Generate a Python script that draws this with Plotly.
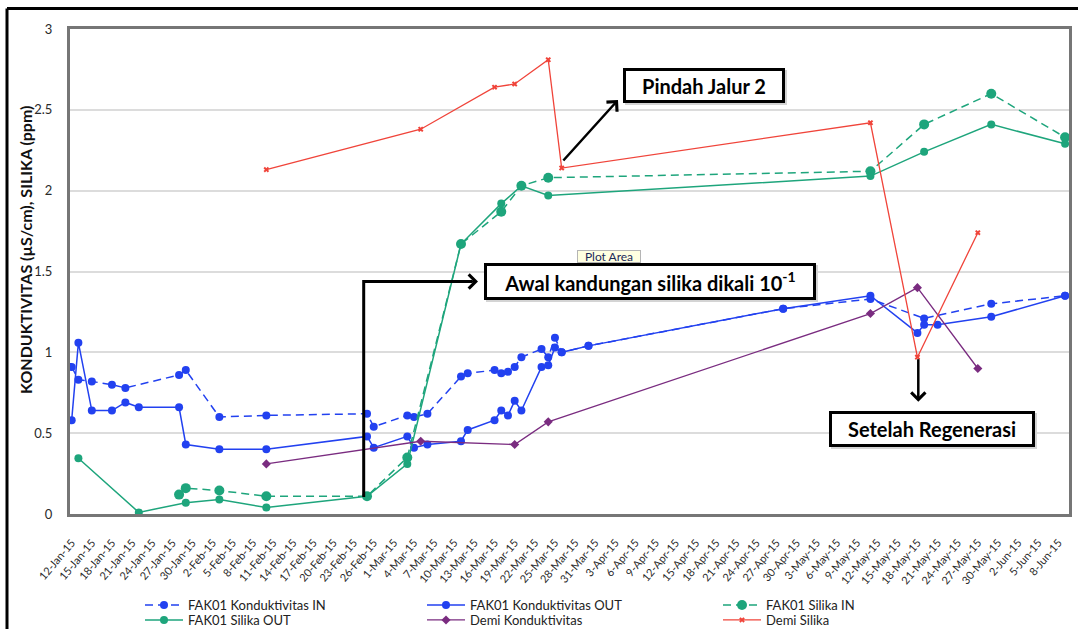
import plotly.graph_objects as go

# ---------------- data ----------------
kond_in_dates = ["2015-01-12", "2015-01-13", "2015-01-15", "2015-01-18", "2015-01-20", "2015-01-28",
                 "2015-01-29", "2015-02-03", "2015-02-10", "2015-02-25", "2015-02-26", "2015-03-03",
                 "2015-03-04", "2015-03-06", "2015-03-11", "2015-03-12", "2015-03-16", "2015-03-17",
                 "2015-03-18", "2015-03-19", "2015-03-20", "2015-03-23", "2015-03-24", "2015-03-25",
                 "2015-03-26", "2015-03-30", "2015-04-28", "2015-05-11", "2015-05-19", "2015-05-29",
                 "2015-06-09"]
kond_in = [0.91, 0.83, 0.82, 0.80, 0.78, 0.86, 0.89, 0.60, 0.61, 0.62, 0.54, 0.61,
           0.60, 0.62, 0.85, 0.87, 0.89, 0.87, 0.88, 0.91, 0.97, 1.02, 0.97, 1.09,
           1.00, 1.04, 1.27, 1.33, 1.21, 1.30, 1.35]

kond_out_dates = ["2015-01-12", "2015-01-13", "2015-01-15", "2015-01-18", "2015-01-20", "2015-01-22",
                  "2015-01-28", "2015-01-29", "2015-02-03", "2015-02-10", "2015-02-25", "2015-02-26",
                  "2015-03-03", "2015-03-04", "2015-03-06", "2015-03-11", "2015-03-12", "2015-03-16",
                  "2015-03-17", "2015-03-18", "2015-03-19", "2015-03-20", "2015-03-23", "2015-03-24",
                  "2015-03-25", "2015-03-26", "2015-03-30", "2015-04-28", "2015-05-11", "2015-05-18",
                  "2015-05-19", "2015-05-21", "2015-05-29", "2015-06-09"]
kond_out = [0.58, 1.06, 0.64, 0.64, 0.69, 0.66, 0.66, 0.43, 0.40, 0.40, 0.48, 0.41,
            0.48, 0.41, 0.43, 0.45, 0.52, 0.58, 0.64, 0.61, 0.70, 0.64, 0.91, 0.92,
            1.03, 1.00, 1.04, 1.27, 1.35, 1.12, 1.17, 1.17, 1.22, 1.35]

silika_in_dates = ["2015-01-28", "2015-01-29", "2015-02-03", "2015-02-10", "2015-02-25", "2015-03-03",
                   "2015-03-11", "2015-03-17", "2015-03-20", "2015-03-24", "2015-05-11", "2015-05-19",
                   "2015-05-29", "2015-06-09"]
silika_in = [0.12, 0.16, 0.145, 0.11, 0.11, 0.35, 1.67, 1.87, 2.03, 2.08, 2.12, 2.41, 2.60, 2.33]

silika_out_dates = ["2015-01-13", "2015-01-22", "2015-01-29", "2015-02-03", "2015-02-10", "2015-02-25",
                    "2015-03-03", "2015-03-11", "2015-03-17", "2015-03-20", "2015-03-24", "2015-05-11",
                    "2015-05-19", "2015-05-29", "2015-06-09"]
silika_out = [0.345, 0.01, 0.07, 0.09, 0.04, 0.11, 0.31, 1.67, 1.92, 2.03, 1.97, 2.09, 2.24, 2.41, 2.29]

demi_kond_dates = ["2015-02-10", "2015-03-05", "2015-03-19", "2015-03-24", "2015-05-11", "2015-05-18",
                   "2015-05-27"]
demi_kond = [0.31, 0.45, 0.43, 0.57, 1.24, 1.40, 0.90]

demi_silika_dates = ["2015-02-10", "2015-03-05", "2015-03-16", "2015-03-19", "2015-03-24", "2015-03-26",
                     "2015-05-11", "2015-05-18", "2015-05-27"]
demi_silika = [2.13, 2.38, 2.64, 2.66, 2.81, 2.14, 2.42, 0.97, 1.74]

series_names = ["FAK01 Konduktivitas IN", "FAK01 Konduktivitas OUT", "FAK01 Silika IN",
                "FAK01 Silika OUT", "Demi Konduktivitas", "Demi Silika"]

y_title = "KONDUKTIVITAS (µS/cm), SILIKA (ppm)"

# ---------------- styling ----------------
FONT = "Lato"
BLUE = "#2241f0"
GREEN = "#1ea57c"
PURPLE = "#7a2c80"
RED = "#f0443a"

W, H = 1078, 629
PL, PR, PT, PB = 70, 1069, 29, 514
PW, PH = PR - PL, PB - PT


def fx(x):
    return (x - PL) / PW


def fy(y):
    return (PB - y) / PH


fig = go.Figure()

traces = [
    (kond_in_dates, kond_in, BLUE, "8px,5px", "circle", 8, 1.5),
    (kond_out_dates, kond_out, BLUE, "solid", "circle", 8, 1.5),
    (silika_in_dates, silika_in, GREEN, "8px,5px", "circle", 10, 1.5),
    (silika_out_dates, silika_out, GREEN, "solid", "circle", 8, 1.5),
    (demi_kond_dates, demi_kond, PURPLE, "solid", "diamond", 7, 1.3),
    (demi_silika_dates, demi_silika, RED, "solid", "x", 5, 1.3),
]

legend_ids = ["legend", "legend2", "legend3", "legend4", "legend5", "legend6"]
for (dx, dy, col, dash, sym, ms, lw), name, lid in zip(traces, series_names, legend_ids):
    fig.add_trace(go.Scatter(
        x=dx, y=dy, name=name, mode="lines+markers",
        line=dict(color=col, width=lw, dash=dash),
        marker=dict(color=col, symbol=sym, size=ms, line=dict(width=0)),
        legend=lid,
    ))

# legend placement: 3 columns x 2 rows
col_x = [140, 422, 718]
row_y = [605, 620]
positions = [(0, 0), (1, 0), (2, 0), (0, 1), (1, 1), (2, 1)]
legend_layouts = {}
for lid, (c, r) in zip(legend_ids, positions):
    legend_layouts[lid] = dict(
        x=fx(col_x[c]), y=fy(row_y[r]), xanchor="left", yanchor="middle",
        bgcolor="rgba(0,0,0,0)", borderwidth=0, itemwidth=38,
        font=dict(family=FONT, size=13, color="#222222"),
    )

BOXFONT = dict(family=FONT, size=20, color="black", weight="bold")
annotations = [
    # y-axis title
    dict(text=y_title, x=fx(25), y=fy(250), xref="paper", yref="paper", showarrow=False,
         xanchor="center", yanchor="middle", textangle=-90,
         font=dict(family=FONT, size=16, color="#111111", weight="bold")),
    # boxes
    dict(text="Pindah Jalur 2", x=fx(704), y=fy(85.5), xref="paper", yref="paper", showarrow=False,
         xanchor="center", yanchor="middle",
         width=156, height=29, bgcolor="white", bordercolor="black", borderwidth=3, borderpad=0,
         font=BOXFONT),
    dict(text="Awal kandungan silika dikali 10<sup>-1</sup>", x=fx(650), y=fy(281.5), xref="paper",
         yref="paper", showarrow=False, xanchor="center", yanchor="middle",
         width=326, height=31, bgcolor="white", bordercolor="black",
         borderwidth=3, borderpad=0, font=BOXFONT),
    dict(text="Setelah Regenerasi", x=fx(932), y=fy(428.7), xref="paper", yref="paper", showarrow=False,
         xanchor="center", yanchor="middle",
         width=200, height=30, bgcolor="white", bordercolor="black", borderwidth=3, borderpad=0,
         font=BOXFONT),
    # arrows
    dict(text="", x=fx(618), y=fy(100), xref="paper", yref="paper", showarrow=True,
         ax=-56, ay=62, arrowhead=4, arrowsize=1.1, arrowwidth=2.5, arrowcolor="black", standoff=0),
    dict(text="", x=fx(478), y=fy(281.5), xref="paper", yref="paper", showarrow=True,
         ax=-20, ay=0, arrowhead=4, arrowsize=1.1, arrowwidth=2.5, arrowcolor="black", standoff=0),
    dict(text="", x=fx(918.3), y=fy(401.7), xref="paper", yref="paper", showarrow=True,
         ax=0, ay=-44, arrowhead=4, arrowsize=1.1, arrowwidth=2.5, arrowcolor="black", standoff=0),
    # tooltip
    dict(text="Plot Area", x=fx(609.3), y=fy(256.4), xref="paper", yref="paper", showarrow=False,
         xanchor="center", yanchor="middle",
         width=62, height=11, bgcolor="#ffffe1", bordercolor="#b5b5b5", borderwidth=1, borderpad=0,
         font=dict(family=FONT, size=12, color="#1c2a5a")),
]

shapes = [
    # L-shaped connector for "Awal" note
    dict(type="path", xref="paper", yref="paper",
         path=f"M {fx(363.7)},{fy(497)} L {fx(363.7)},{fy(281.5)} L {fx(472)},{fy(281.5)}",
         line=dict(color="black", width=3)),
    # soft shadows behind note boxes
    dict(type="rect", xref="paper", yref="paper", x0=fx(625), x1=fx(787), y0=fy(70), y1=fy(105),
         fillcolor="#d4d4d4", line=dict(width=0)),
    dict(type="rect", xref="paper", yref="paper", x0=fx(486), x1=fx(818), y0=fy(265), y1=fy(302),
         fillcolor="#d4d4d4", line=dict(width=0)),
    dict(type="rect", xref="paper", yref="paper", x0=fx(831), x1=fx(1037), y0=fy(413), y1=fy(449),
         fillcolor="#d4d4d4", line=dict(width=0)),
    # outer chart frame (left and top visible)
    dict(type="line", xref="paper", yref="paper", x0=fx(7), x1=fx(1100), y0=fy(8.5), y1=fy(8.5),
         line=dict(color="black", width=3)),
    dict(type="line", xref="paper", yref="paper", x0=fx(7), x1=fx(7), y0=fy(8.5), y1=fy(660),
         line=dict(color="black", width=3)),
]

fig.update_layout(
    width=W, height=H,
    margin=dict(l=PL, r=W - PR, t=PT, b=H - PB, autoexpand=False),
    paper_bgcolor="white", plot_bgcolor="white",
    font=dict(family=FONT, size=12, color="#333333"),
    showlegend=True,
    annotations=annotations,
    shapes=shapes,
    **legend_layouts,
)

fig.update_xaxes(
    type="date",
    range=["2015-01-11 18:00", "2015-06-09 14:00"],
    tick0="2015-01-12", dtick=3 * 86400000,
    tickformat="%-d-%b-%y", tickangle=-50,
    tickfont=dict(family=FONT, size=11, color="#2a2a2a"),
    showgrid=False, zeroline=False,
    showline=True, linecolor="#767676", linewidth=3, mirror=True,
    ticks="", ticklabelstandoff=15,
)
fig.update_yaxes(
    range=[0, 3], dtick=0.5, tick0=0,
    tickfont=dict(family=FONT, size=13, color="#2a2a2a"),
    showgrid=True, gridcolor="#dcdcdc", gridwidth=1.5,
    zeroline=False,
    showline=True, linecolor="#767676", linewidth=3, mirror=True,
    ticks="", ticklabelstandoff=12,
)

fig.write_html("out.html", config={"displayModeBar": False},
               post_script="document.body.style.margin='0';")
